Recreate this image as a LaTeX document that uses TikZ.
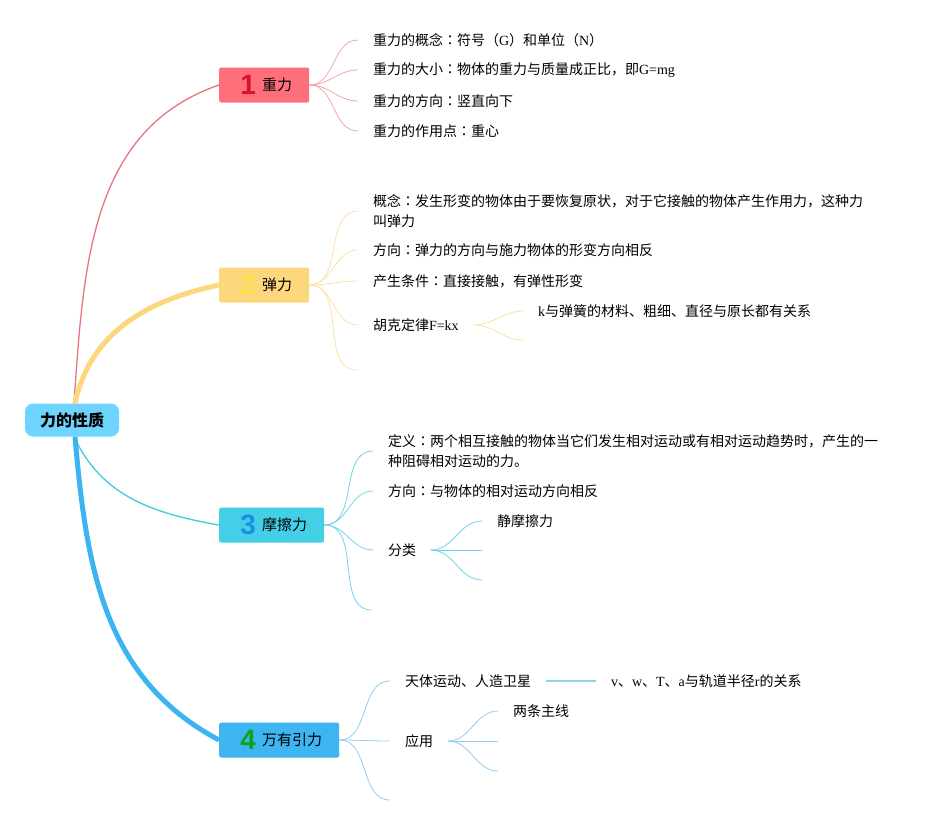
\documentclass[tikz,border=0pt]{standalone}
\usepackage{fontspec}
\setmainfont{Noto Sans CJK SC}
\newfontfamily\lat{Liberation Serif}
\newfontfamily\numfont{Liberation Sans}
\newfontfamily\tcfont{Noto Sans CJK TC}
\usetikzlibrary{positioning,calc}

\definecolor{rootblue}{HTML}{6ED4FD}
\definecolor{redfill}{HTML}{FF6F7B}
\definecolor{rednum}{HTML}{DA132C}
\definecolor{redline}{HTML}{E9737E}
\definecolor{redleaf}{HTML}{F3A7B0}
\definecolor{orafill}{HTML}{FDD77C}
\definecolor{oranum}{HTML}{F8E047}
\definecolor{oraline}{HTML}{FCD77E}
\definecolor{oraleaf}{HTML}{FBE1A8}
\definecolor{cyanfill}{HTML}{43CFE6}
\definecolor{cyannum}{HTML}{1B8FE3}
\definecolor{cyanline}{HTML}{3ECADD}
\definecolor{cyanleaf}{HTML}{72D4E8}
\definecolor{bluefill}{HTML}{3CB5F1}
\definecolor{bluenum}{HTML}{12A21A}
\definecolor{blueline}{HTML}{3BB4F0}
\definecolor{blueleaf}{HTML}{8DD0F3}

\newcommand{\topicnum}[3]{\makebox[24pt][c]{\numfont\bfseries\fontsize{28}{28}\selectfont\color{#1}#2}\hspace{2pt}\raisebox{4pt}{#3}}
\newcommand{\cln}{{\tcfont ：}}

\tikzset{
  rootbox/.style={fill=rootblue, rounded corners=8pt, inner xsep=15pt, minimum height=33pt,
    font=\fontsize{16}{19}\selectfont\bfseries},
  topic/.style={anchor=west, rounded corners=2pt, inner xsep=17pt, minimum height=35pt,
    font=\fontsize{15}{18}\selectfont},
  leaf/.style={anchor=west, inner xsep=0pt, outer xsep=15pt, align=left,
    font=\fontsize{14}{20}\selectfont},
  fan/.style={line width=0.8pt, out=0, in=180},
}

\begin{document}
\begin{tikzpicture}[x=1pt,y=1pt]
\useasboundingbox (0,0) rectangle (949,-825);

\node[rootbox] (root) at (72,-420) {力的性质};

\node[topic, fill=redfill] (b1) at (219,-85) {\topicnum{rednum}{1}{重力}};
\node[topic, fill=orafill] (b2) at (219,-285) {\topicnum{oranum}{2}{弹力}};
\node[topic, fill=cyanfill] (b3) at (219,-525) {\topicnum{cyannum}{3}{摩擦力}};
\node[topic, fill=bluefill] (b4) at (219,-740) {\topicnum{bluenum}{4}{万有引力}};

\draw[redline, line width=1.3pt] ([xshift=2pt]root.north) to[out=86,in=199] (b1.west);
\draw[oraline, line width=5pt] ([xshift=3pt]root.north) to[out=78,in=192] (b2.west);
\draw[cyanline, line width=1.3pt] ([xshift=2pt]root.south) to[out=-65,in=170] (b3.west);
\draw[blueline, line width=5pt] ([xshift=3pt]root.south) to[out=-85,in=152] (b4.west);

% 重力
\node[leaf] (l11) at (358,-40) {重力的概念\cln 符号（{\lat G}）和单位（{\lat N}）};
\node[leaf] (l12) at (358,-70) {重力的大小\cln 物体的重力与质量成正比，即{\lat G=mg}};
\node[leaf] (l13) at (358,-101) {重力的方向\cln 竖直向下};
\node[leaf] (l14) at (358,-131) {重力的作用点\cln 重心};
\foreach \t in {l11,l12,l13,l14}
  \draw[fan, redleaf] (b1) to (\t);

% 弹力
\node[leaf] (l21) at (358,-211) {概念\cln 发生形变的物体由于要恢复原状，对于它接触的物体产生作用力，这种力\\叫弹力};
\node[leaf] (l22) at (358,-250) {方向\cln 弹力的方向与施力物体的形变方向相反};
\node[leaf] (l23) at (358,-281) {产生条件\cln 直接接触，有弹性形变};
\node[leaf] (l24) at (358,-325) {胡克定律{\lat F=kx}};
\coordinate (e25) at (357,-370);
\foreach \t in {l21,l22,l23,l24,e25}
  \draw[fan, oraleaf] (b2) to (\t);
\node[leaf] (l241) at (523,-311) {{\lat k}与弹簧的材料、粗细、直径与原长都有关系};
\coordinate (e242) at (523,-340);
\foreach \t in {l241,e242}
  \draw[fan, oraleaf] (l24) to (\t);

% 摩擦力
\node[leaf] (l31) at (373,-451) {定义\cln 两个相互接触的物体当它们发生相对运动或有相对运动趋势时，产生的一\\种阻碍相对运动的力。};
\node[leaf] (l32) at (373,-491) {方向\cln 与物体的相对运动方向相反};
\node[leaf] (l33) at (373,-550) {分类};
\coordinate (e34) at (372,-610);
\foreach \t in {l31,l32,l33,e34}
  \draw[fan, cyanleaf] (b3) to (\t);
\node[leaf] (l331) at (482,-521) {静摩擦力};
\coordinate (e332) at (482,-550);
\coordinate (e333) at (482,-580);
\foreach \t in {l331,e332,e333}
  \draw[fan, cyanleaf] (l33) to (\t);

% 万有引力
\node[leaf] (l41) at (390,-681) {天体运动、人造卫星};
\node[leaf] (l42) at (390,-741) {应用};
\coordinate (e43) at (390,-800);
\foreach \t in {l41,l42,e43}
  \draw[fan, blueleaf] (b4) to (\t);
\node[leaf] (l411) at (596,-681) {{\lat v}、{\lat w}、{\lat T}、{\lat a}与轨道半径{\lat r}的关系};
\draw[blueleaf, line width=1.6pt] (l41) -- (l411);
\node[leaf] (l421) at (498,-711) {两条主线};
\coordinate (e422) at (498,-741);
\coordinate (e423) at (498,-771);
\foreach \t in {l421,e422,e423}
  \draw[fan, blueleaf] (l42) to (\t);
\end{tikzpicture}
\end{document}
